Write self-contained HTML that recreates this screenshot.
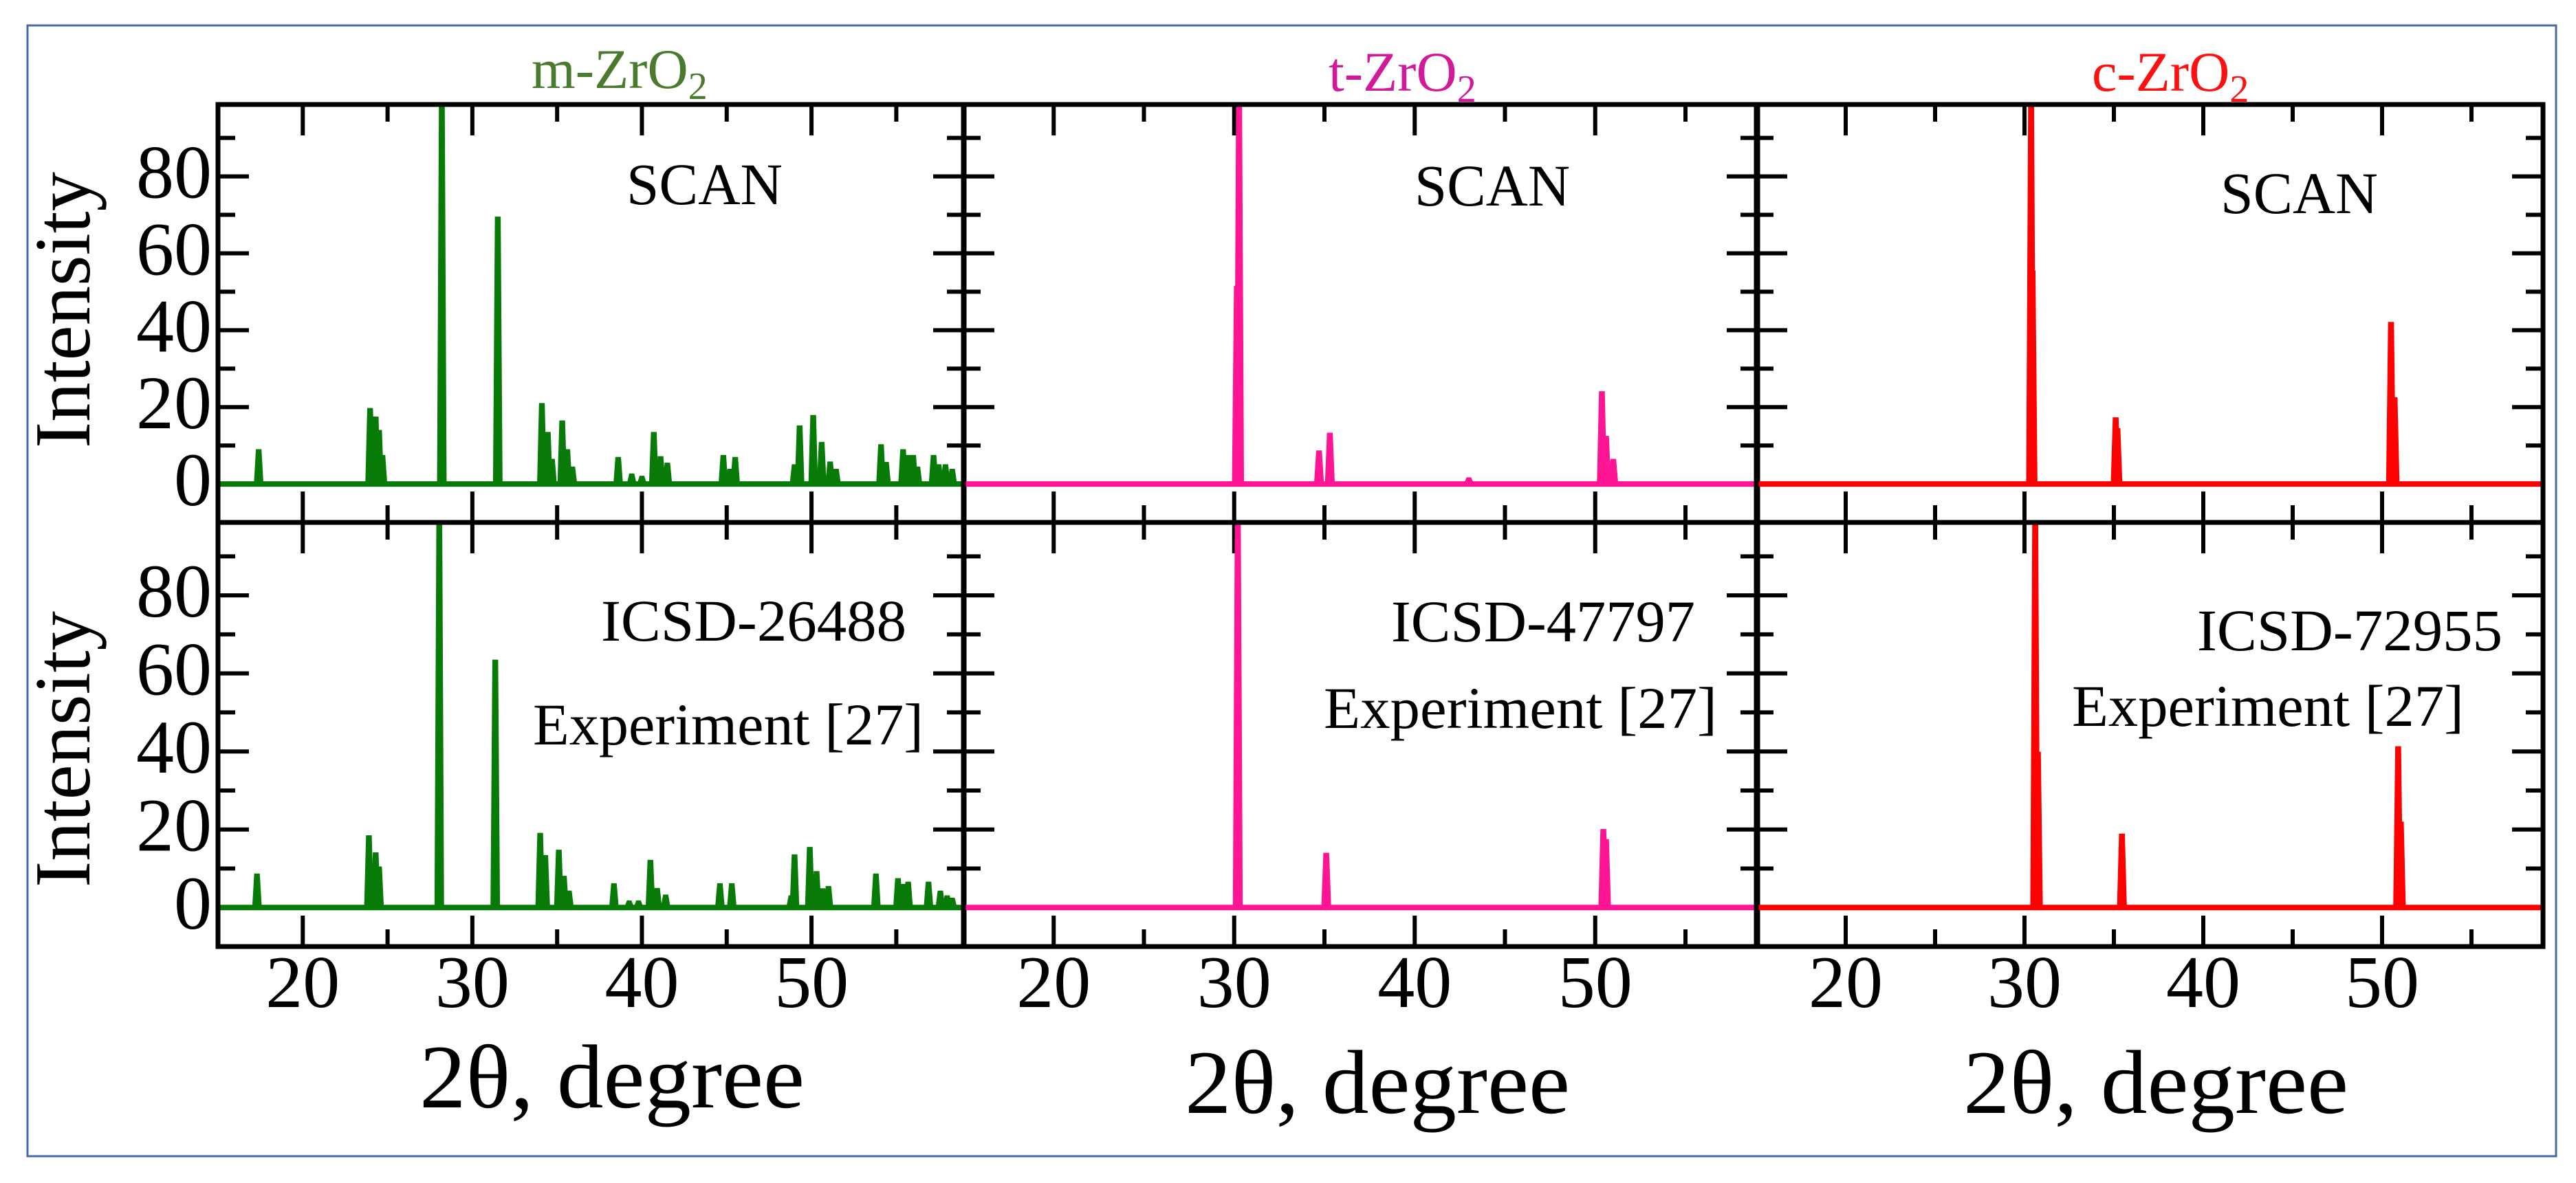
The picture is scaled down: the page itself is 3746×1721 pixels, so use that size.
<!DOCTYPE html>
<html><head><meta charset="utf-8"><style>
html,body{margin:0;padding:0;background:#fff;}
svg{display:block;font-family:"Liberation Serif",serif;}
</style></head><body>
<svg id="chart" width="3746" height="1721" viewBox="0 0 3746 1721" xmlns="http://www.w3.org/2000/svg">
<rect x="40" y="37" width="3677" height="1645" fill="#fff" stroke="#4a6aa5" stroke-width="3"/>
<g id="plots"></g>
</svg>
<script>
// ---- data (2θ degree, relative intensity) ----
const mScanPos = [17.4,23.97,24.3,24.5,24.7,28.2,31.5,34.1,34.45,34.7,35.3,35.6,35.9,38.6,39.4,40.0,40.7,41.1,41.5,44.8,45.2,45.5,49.0,49.3,50.1,50.6,51.1,51.45,54.1,54.4,55.4,55.7,56.0,56.25,57.2,57.5,57.9,58.3];
const mScanInt = [8.5,19.2,17,13.5,7,100,69,20.5,13,6,16,8.5,4,6.5,2.2,1.6,13,6.7,5,7,3.4,6.5,4.6,14.7,17.4,10.4,5.3,3.4,9.8,5.2,8.5,7,7,4,7,4.6,4.6,3.4];
const mExpPos = [17.3,23.9,24.3,24.5,28.05,31.35,34.0,34.3,35.1,35.4,35.7,38.35,39.25,39.8,40.5,40.9,41.4,44.6,45.3,48.8,49.0,49.9,50.3,50.65,51.0,53.8,55.1,55.4,55.7,56.9,57.6,58.0,58.3];
const mExpInt = [8.2,18,13.6,10,100,63,18.6,12.9,14.3,7.6,3.8,5.7,1.3,1.3,11.7,4.5,2.8,5.7,5.7,2.6,13.1,15,8.8,4.4,5,8.2,7,5.5,6.1,6.1,3.8,2.6,2];
const tScanPos = [30.15,30.27,34.7,35.3,43.0,50.37,50.6,51.0];
const tScanInt = [51,100,8.2,12.8,1.2,23.6,12,6];
const tExpPos = [30.2,35.1,50.45,50.6];
const tExpInt = [100,13.5,19.6,17];
const cScanPos = [30.37,30.45,35.1,35.2,50.5,50.7];
const cScanInt = [100,55,16.8,14,41.6,22];
const cExpPos = [30.6,30.75,35.45,50.9,51.05];
const cExpInt = [100,39.4,18.4,40.8,21.5];
const xMajor = [20,30,40,50];
const xMinor = [25,35,45,55];
const yMajor = [0,20,40,60,80];
const yMinor = [10,30,50,70,90];
const xDomain = [15,59];
const yDomain = [-10,98.7];

const NS = "http://www.w3.org/2000/svg";
const root = document.getElementById('plots');
function mk(tag, attrs, parent){const e=document.createElementNS(NS,tag);for(const k in attrs)e.setAttribute(k,attrs[k]);(parent||root).appendChild(e);return e;}

const cols = [
 {x0:317,x1:1402,color:'#077a07',title:'m-ZrO',tcol:'#4a7a2e',tx:773,ty:128,name:'m',scan:[mScanPos,mScanInt],exp:[mExpPos,mExpInt],
  scanTxt:[911,297,227],icsd:['ICSD-26488',874,932,444],expTxt:[775,1083,568],axT:[890,1611]},
 {x0:1401,x1:2556,color:'#ff1493',title:'t-ZrO',tcol:'#d01a9a',tx:1932,ty:132,name:'t',scan:[tScanPos,tScanInt],exp:[tExpPos,tExpInt],
  scanTxt:[2057,299,226],icsd:['ICSD-47797',2023,933,442],expTxt:[1925,1059,572],axT:[2003,1619]},
 {x0:2554,x1:3698,color:'#ff0000',title:'c-ZrO',tcol:'#ff1010',tx:3042,ty:132,name:'c',scan:[cScanPos,cScanInt],exp:[cExpPos,cExpInt],
  scanTxt:[3229,310,229],icsd:['ICSD-72955',3195,946,444],expTxt:[3013,1056,570],axT:[3135,1619]}
];
const rows=[{y0:152,y1:760},{y0:760,y1:1377}];

cols.forEach((c,ci)=>{
  const X=v=>c.x0+(v-xDomain[0])/(xDomain[1]-xDomain[0])*(c.x1-c.x0);
  rows.forEach((r,ri)=>{
    const Y=v=>r.y1-(v-yDomain[0])/(yDomain[1]-yDomain[0])*(r.y1-r.y0);
    const g=mk('g',{});
    
    
    const cid='clip'+ci+'_'+ri;
    const cp=mk('clipPath',{id:cid},g);
    mk('rect',{x:c.x0,y:r.y0,width:c.x1-c.x0,height:r.y1-r.y0},cp);
    // x ticks
    [[xMajor,45],[xMinor,25]].forEach(([arr,L])=>arr.forEach(v=>{
      mk('line',{x1:X(v),x2:X(v),y1:r.y0,y2:r.y0+L,stroke:'#000','stroke-width':6},g);
      mk('line',{x1:X(v),x2:X(v),y1:r.y1,y2:r.y1-L,stroke:'#000','stroke-width':6},g);
    }));
    // y ticks
    [[yMajor,45],[yMinor,25]].forEach(([arr,L])=>arr.forEach(v=>{
      mk('line',{x1:c.x0,x2:c.x0+L,y1:Y(v),y2:Y(v),stroke:'#000','stroke-width':6},g);
      mk('line',{x1:c.x1,x2:c.x1-L,y1:Y(v),y2:Y(v),stroke:'#000','stroke-width':6},g);
    }));
    const [pos,inten]=ri?c.exp:c.scan;
    const base=mk('line',{x1:c.x0,x2:c.x1,y1:Y(0),y2:Y(0),stroke:c.color,'stroke-width':8,'clip-path':`url(#${cid})`},g);
    
    
    pos.forEach((p,i)=>{
      const h=inten[i];
      const d=`M${X(p-0.16)},${Y(0)} L${X(p-0.05)},${Y(h)} L${X(p+0.05)},${Y(h)} L${X(p+0.16)},${Y(0)} Z`;
      const pk=mk('path',{d:d,fill:c.color,stroke:c.color,'stroke-width':6,'stroke-linejoin':'miter','clip-path':`url(#${cid})`},g);
      
      
    });
    const fr=mk('rect',{x:c.x0,y:r.y0,width:c.x1-c.x0,height:r.y1-r.y0,fill:'none',stroke:'#000','stroke-width':7},g);
    
    
    if(ci===0){
      yMajor.forEach(v=>{
        const t=mk('text',{x:308,y:Y(v)+31,'font-size':110,'text-anchor':'end'},g);
        t.textContent=v;
        
        
      });
      const it=mk('text',{x:0,y:0,'font-size':116,'text-anchor':'middle',textLength:402,lengthAdjust:'spacingAndGlyphs',transform:`translate(130,${ri?1090:451}) rotate(-90)`},g);
      it.textContent='Intensity';
      
      
    }
    if(ri===0){
      const s=mk('text',{x:c.scanTxt[0],y:c.scanTxt[1],'font-size':86,textLength:c.scanTxt[2],lengthAdjust:'spacingAndGlyphs'},g);
      s.textContent='SCAN';
      
      
    } else {
      const s=mk('text',{x:c.icsd[1],y:c.icsd[2],'font-size':86,textLength:c.icsd[3],lengthAdjust:'spacingAndGlyphs'},g);
      s.textContent=c.icsd[0];
      
      
      const e=mk('text',{x:c.expTxt[0],y:c.expTxt[1],'font-size':86,textLength:c.expTxt[2],lengthAdjust:'spacingAndGlyphs'},g);
      e.textContent='Experiment [27]';
      
      
      xMajor.forEach(v=>{
        const t=mk('text',{x:X(v),y:1465,'font-size':108,'text-anchor':'middle'},g);
        t.textContent=v;
        
        
      });
    }
  });
  const at=mk('text',{x:c.axT[0],y:c.axT[1],'font-size':132,'text-anchor':'middle',textLength:560,lengthAdjust:'spacingAndGlyphs'});
  at.textContent='2θ, degree';
  
  
  const tt=mk('text',{x:c.tx,y:c.ty,'font-size':82,fill:c.tcol});
  tt.textContent=c.title;
  const sub=mk('tspan',{'font-size':56,dy:16},tt);
  sub.textContent='2';
  
  
});
</script>
</body></html>
